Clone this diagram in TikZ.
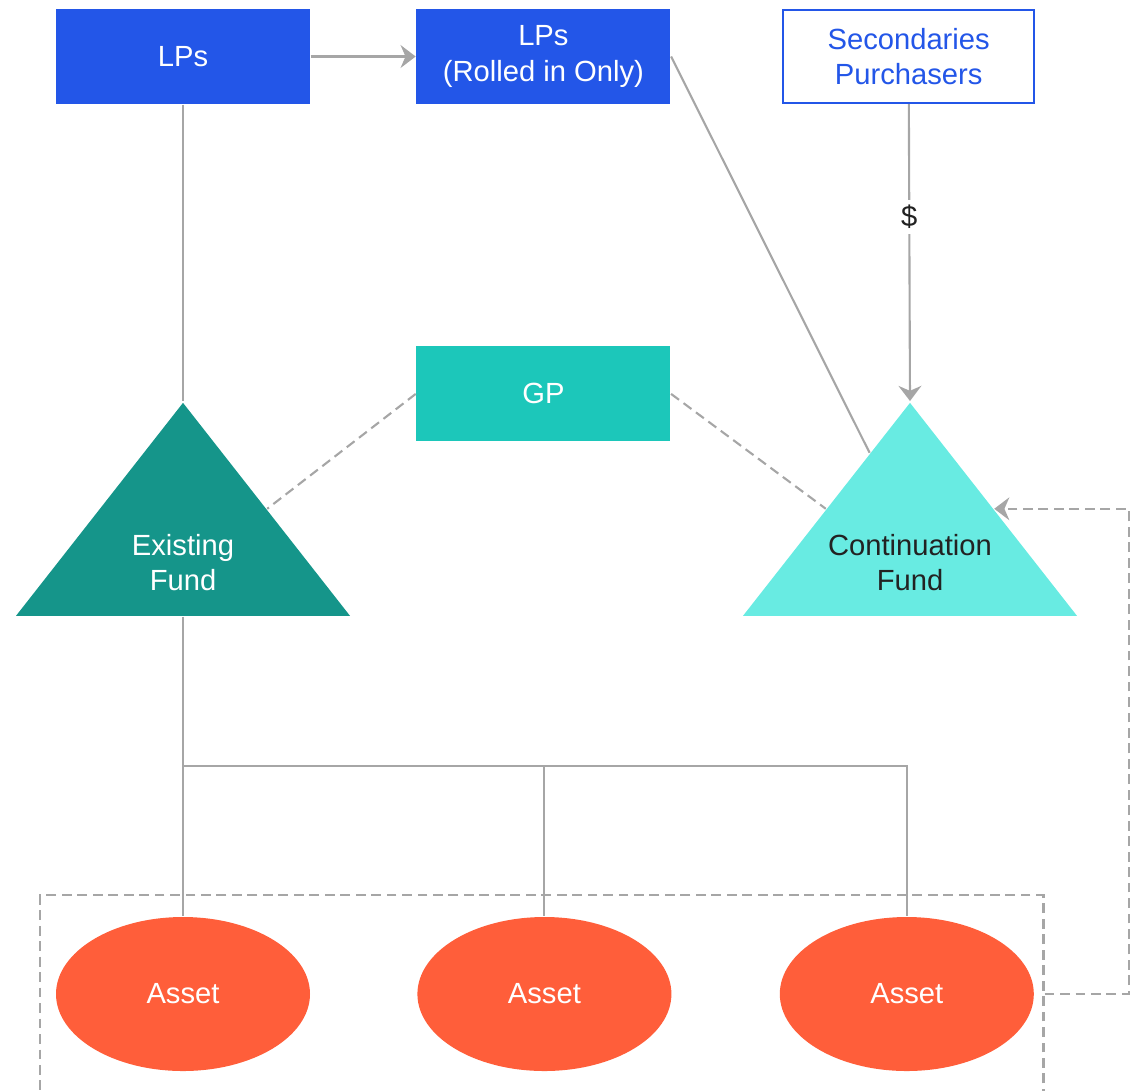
\documentclass[tikz,border=0pt]{standalone}
\usepackage{fontspec}
\setmainfont{Liberation Sans}
\usepackage{xcolor}
\definecolor{LPBlue}{RGB}{35,86,232}
\definecolor{GPTeal}{RGB}{28,199,186}
\definecolor{FundTeal}{RGB}{21,149,138}
\definecolor{FundAqua}{RGB}{104,235,226}
\definecolor{AssetRed}{RGB}{255,94,58}
\definecolor{LineGray}{RGB}{166,166,166}
\definecolor{TextDark}{RGB}{34,34,34}
\usetikzlibrary{
  shapes, shapes.geometric,
  arrows.meta,
  positioning, calc, fit
}
\tikzset{
  % Base text
  txt/.style={font=\fontsize{8.3}{10}\selectfont},
  % Filled box
  fbox/.style={
    rectangle, txt,
    fill=LPBlue, text=white,
    align=center,
    minimum width=2.54cm, minimum height=0.95cm,
    inner sep=2pt
  },
  fbox gp/.style={fbox, fill=GPTeal},
  % Outlined box
  obox/.style={fbox, fill=white, draw=LPBlue, line width=0.6pt, text=LPBlue,
    minimum width=2.51cm, minimum height=0.93cm},
  % Fund triangle
  fund/.style={
    isosceles triangle, isosceles triangle stretches,
    shape border rotate=90,
    minimum width=3.34cm, minimum height=2.13cm,
    inner sep=0pt
  },
  ftext/.style={txt, align=center, inner sep=0pt},
  % Asset ellipse
  asset/.style={
    ellipse, txt, fill=AssetRed, text=white,
    minimum width=2.54cm, minimum height=1.54cm
  },
  % Connectors
  conn/.style={draw=LineGray, line width=0.6pt},
  arr/.style={conn, -{Stealth[length=4.3pt,width=6.5pt,inset=1.4pt]}},
  dconn/.style={conn, dash pattern=on 2.8pt off 1.6pt},
  darr/.style={dconn, -{Stealth[length=4.3pt,width=6.5pt,inset=1.4pt]}},
  % Edge label
  elabel/.style={txt, fill=white, text=TextDark, inner sep=1.5pt},
}

\begin{document}
\begin{tikzpicture}[node distance=1.06cm and 1.06cm]
  \useasboundingbox (0,0) rectangle (11.31,-10.90);

  %% ---- TOP ROW ----
  \node[fbox] (lps) at (1.83,-0.565) {LPs};
  \node[fbox, right=1.05cm of lps] (lpsr) {LPs\\(Rolled in Only)};
  \node[obox, right=1.11cm of lpsr] (sec) {Secondaries\\Purchasers};

  %% ---- GP AND FUNDS ----
  \node[fbox gp, below=2.41cm of lpsr] (gp) {GP};
  \node[fund, fill=FundTeal, anchor=apex] (ef) at (1.83,-4.01) {};
  \node[fund, fill=FundAqua, anchor=apex] (cf) at (9.10,-4.01) {};
  \node[ftext, text=white] (eft) at ([yshift=0.54cm]ef.lower side) {Existing\\Fund};
  \node[ftext, text=TextDark] (cft) at ([yshift=0.54cm]cf.lower side) {Continuation\\Fund};

  %% ---- ASSETS ----
  \node[asset] (a1) at (1.83,-9.94) {Asset};
  \node[asset, right=1.06cm of a1] (a2) {Asset};
  \node[asset, right=1.07cm of a2] (a3) {Asset};
  \coordinate (bus) at (1.83,-7.66);

  %% Arrows: LPs / secondaries -> funds
  \draw[arr] (lps) -- (lpsr);
  \draw[conn] (lps) -- (ef.apex);
  \draw[conn] (lpsr.east) -- ($(cf.apex)!0.24!(cf.left corner)$);
  \draw[arr] (sec) -- node[elabel, pos=0.38]{\$} (cf.apex);

  %% GP manages both funds
  \draw[dconn] (gp.west) -- (ef.right side);
  \draw[dconn] (gp.east) -- (cf.left side);

  %% Existing fund -> assets
  \draw[conn] (ef.lower side) -- (a1);
  \draw[conn] (bus) -| (a2.north);
  \draw[conn] (bus) -| (a3.north);

  %% Assets moved to continuation fund
  \node[dconn, fit=(a1)(a3), inner xsep=0.12cm, inner ysep=0.25cm,
        xshift=-0.03cm, yshift=-0.04cm] (abox) {};
  \draw[darr] (abox.east |- a3) -- ++(0.84,0) |- (cf.right side);

\end{tikzpicture}
\end{document}
